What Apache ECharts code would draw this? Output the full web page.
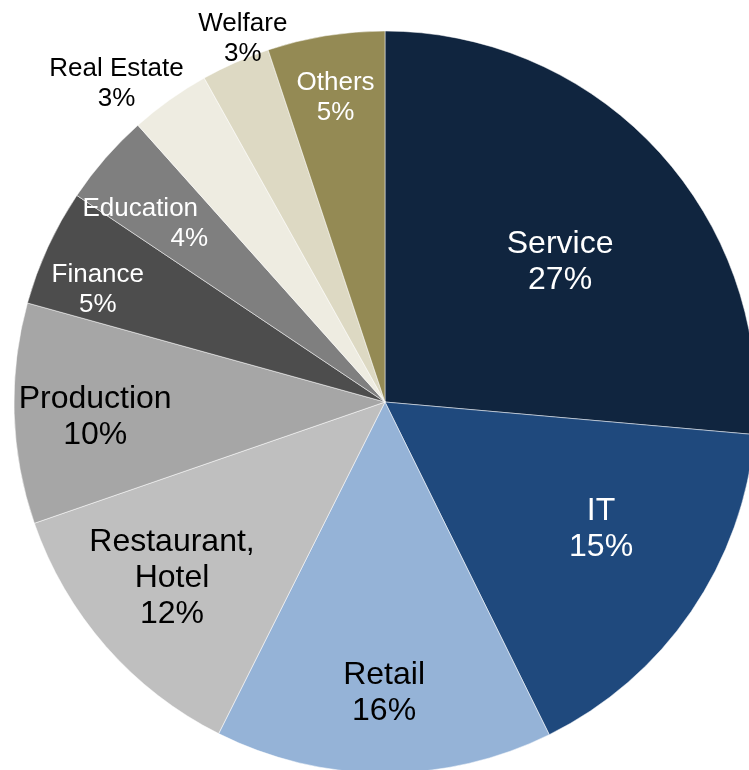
<!DOCTYPE html>
<html>
<head>
<meta charset="utf-8">
<script src="https://cdn.jsdelivr.net/npm/echarts@6/dist/echarts.min.js"></script>
<style>
  html, body { margin: 0; padding: 0; background: #fff; }
  #chart { width: 749px; height: 770px; }
</style>
</head>
<body>
<div id="chart"></div>
<script>
// sectors, clockwise from 12 o'clock
const categories = ['Service', 'IT', 'Retail', 'Restaurant,\nHotel', 'Production', 'Finance', 'Education', 'Real Estate', 'Welfare', 'Others']
const shares = [26.4, 16.3, 14.7, 12.3, 9.6, 5.1, 4.0, 3.5, 3.0, 5.1]   // slice sizes
const pctLabels = ['27%', '15%', '16%', '12%', '10%', '5%', '4%', '3%', '3%', '5%']

const colors = ['#10253F', '#1F497D', '#95B3D7', '#BFBFBF', '#A6A6A6', '#4D4D4D', '#7F7F7F', '#EEECE1', '#DDD9C3', '#948A54']
const textColors = ['#fff', '#fff', '#000', '#000', '#000', '#fff', '#fff', '#000', '#000', '#fff']
const bigLabel = [true, true, true, true, true, false, false, false, false, false]
// label placement: radius as fraction of R, and angle shift from the slice middle (deg)
const labelDist = [0.608, 0.673, 0.78, 0.741, 0.782, 0.833, 0.819, 1.127, 1.057, 0.835]
const labelShift = [3.4, -4.3, 0, 2.0, -0.8, -3.0, -4.7, -4.5, 2.5, 0]
const pctPadLeft = [0, 0, 0, 0, 0, 0, 98, 0, 0, 0] // Education's % sits off to the right

const CX = 385, CY = 402, R = 371

const chart = echarts.init(document.getElementById('chart'), null, { renderer: 'canvas' })

const total = shares.reduce((a, b) => a + b, 0)
// mid angle of each slice (clockwise from top, radians)
const midAngles = []
let acc = 0
shares.forEach(v => {
  midAngles.push((acc + v / 2) / total * Math.PI * 2)
  acc += v
})

const option = {
  animation: false,
  series: [{
    type: 'pie',
    center: [CX, CY],
    radius: R,
    startAngle: 90,
    clockwise: true,
    avoidLabelOverlap: false,
    itemStyle: { borderColor: '#fff', borderWidth: 0.5 },
    emphasis: { disabled: true },
    label: {
      show: true,
      position: 'inside',
      fontFamily: 'Liberation Sans, Arial, sans-serif',
      align: 'center'
    },
    labelLine: { show: false },
    labelLayout: function (p) {
      const i = p.dataIndex
      const a = midAngles[i] + labelShift[i] * Math.PI / 180
      const d = labelDist[i] * R
      return {
        x: CX + Math.sin(a) * d,
        y: CY - Math.cos(a) * d + 2,
        align: 'center',
        verticalAlign: 'middle'
      }
    },
    data: categories.map((c, i) => {
      const fs = bigLabel[i] ? 32 : 26
      const lh = bigLabel[i] ? 36 : 30
      return {
        name: c,
        value: shares[i],
        itemStyle: { color: colors[i] },
        label: {
          formatter: '{n|' + c.split('\n').join('}\n{n|') + '}\n{p|' + pctLabels[i] + '}',
          rich: {
            n: { color: textColors[i], fontSize: fs, lineHeight: lh, fontFamily: 'Liberation Sans, Arial, sans-serif' },
            p: { color: textColors[i], fontSize: fs, lineHeight: lh, fontFamily: 'Liberation Sans, Arial, sans-serif', padding: [0, 0, 0, pctPadLeft[i]] }
          }
        }
      }
    })
  }]
}

chart.setOption(option)
</script>
</body>
</html>
